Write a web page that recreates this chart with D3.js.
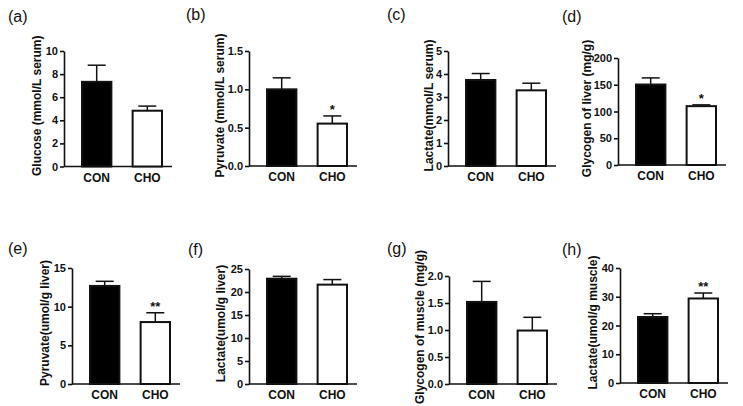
<!DOCTYPE html>
<html>
<head>
<meta charset="utf-8">
<script src="https://cdn.jsdelivr.net/npm/d3@7"></script>
<style>
  html, body { margin: 0; padding: 0; background: #fff; }
  svg { display: block; }
  text { font-family: "Liberation Sans", Arial, sans-serif; fill: #111; }
</style>
</head>
<body>
<svg id="chart" width="743" height="406"></svg>
<script>
// ---------- data ----------
const categories = ["CON", "CHO"];
const panelLetters = ["(a)", "(b)", "(c)", "(d)", "(e)", "(f)", "(g)", "(h)"];
const yTitles = [
  "Glucose (mmol/L serum)",
  "Pyruvate (mmol/L serum)",
  "Lactate(mmol/L serum)",
  "Glycogen of liver (mg/g)",
  "Pyruvate(umol/g liver)",
  "Lactate(umol/g liver)",
  "Glycogen of muscle (mg/g)",
  "Lactate(umol/g muscle)"
];
const conMeans = [7.33, 1.00, 3.74, 150.4, 12.68, 22.89, 1.52, 22.96];
const conErr   = [1.44, 0.15, 0.28, 12.4, 0.60, 0.51, 0.38, 1.14];
const choMeans = [4.83, 0.553, 3.29, 110.0, 8.01, 21.6, 0.99, 29.4];
const choErr   = [0.40, 0.10, 0.31, 2.4, 1.20, 1.10, 0.245, 1.9];
const yMax     = [10, 1.5, 5, 200, 15, 25, 2.0, 40];
const yStep    = [2, 0.5, 1, 50, 5, 5, 0.5, 10];
const yFormat  = ["d", ".1f", "d", "d", "d", "d", ".1f", "d"];
const significance = ["", "*", "", "*", "**", "", "", "**"];

// ---------- layout (positions only) ----------
const axisX   = [64, 249, 448, 618, 72, 249, 449, 620];
const axisTop = [51, 51, 51, 58, 268, 269, 276, 268];
const axisBot = [166.5, 166, 166, 165, 384, 384, 384, 383];
const titleOffset = [23, 25.5, 15, 27, 23, 24, 25, 23];
const letterPos = [[8, 22], [186, 20], [387, 20], [562, 22], [8, 254], [188, 255], [387, 254], [562, 255]];

const svg = d3.select("#chart");
svg.append("rect").attr("width", 743).attr("height", 406).attr("fill", "#fff");

for (let i = 0; i < 8; i++) {
  const x0 = axisX[i];
  const g = svg.append("g");

  const y = d3.scaleLinear().domain([0, yMax[i]]).range([axisBot[i], axisTop[i]]);
  const x = d3.scaleBand().domain(categories)
    .range([x0 + 17, x0 + 99]).paddingInner(0.38).paddingOuter(0);

  const ticks = d3.range(0, yMax[i] + yStep[i] / 2, yStep[i]);
  const yAxis = d3.axisLeft(y).tickValues(ticks).tickFormat(d3.format(yFormat[i]))
    .tickSize(4).tickSizeOuter(0).tickPadding(2);
  const ga = g.append("g").attr("transform", `translate(${x0},0)`).call(yAxis);
  ga.select(".domain").attr("stroke", "#111").attr("stroke-width", 1.6);
  ga.selectAll(".tick line").attr("stroke", "#111").attr("stroke-width", 1.6);
  ga.selectAll(".tick text").attr("font-size", 11).attr("font-weight", "bold")
    .attr("fill", "#111").style("font-family", '"Liberation Sans", Arial, sans-serif');

  // x axis line (no ticks)
  g.append("line").attr("x1", x0).attr("x2", x0 + 108)
    .attr("y1", axisBot[i]).attr("y2", axisBot[i])
    .attr("stroke", "#111").attr("stroke-width", 1.6);

  const means = [conMeans[i], choMeans[i]];
  const errs = [conErr[i], choErr[i]];
  const fills = ["#000", "#fff"];

  // error bars (upper only)
  categories.forEach((c, k) => {
    const cx = x(c) + x.bandwidth() / 2;
    g.append("line").attr("x1", cx).attr("x2", cx)
      .attr("y1", y(means[k])).attr("y2", y(means[k] + errs[k]))
      .attr("stroke", "#111").attr("stroke-width", 1.5);
    g.append("line").attr("x1", cx - 9).attr("x2", cx + 9)
      .attr("y1", y(means[k] + errs[k])).attr("y2", y(means[k] + errs[k]))
      .attr("stroke", "#111").attr("stroke-width", 1.5);
  });

  // bars
  categories.forEach((c, k) => {
    g.append("rect")
      .attr("x", x(c) + 1).attr("width", x.bandwidth() - 2)
      .attr("y", y(means[k])).attr("height", y(0) - y(means[k]))
      .attr("fill", fills[k]).attr("stroke", "#111").attr("stroke-width", 2);
  });

  // category labels
  categories.forEach(c => {
    g.append("text").attr("x", x(c) + x.bandwidth() / 2).attr("y", axisBot[i] + 15)
      .attr("text-anchor", "middle").attr("font-size", 12).attr("font-weight", "bold")
      .text(c);
  });

  // significance
  if (significance[i]) {
    const cx = x("CHO") + x.bandwidth() / 2;
    g.append("text").attr("x", cx).attr("y", y(choMeans[i] + choErr[i]) - 2)
      .attr("text-anchor", "middle").attr("font-size", 13).attr("font-weight", "bold")
      .text(significance[i]);
  }

  // y title
  const cy = (axisTop[i] + axisBot[i]) / 2 - 3;
  g.append("text")
    .attr("transform", `translate(${x0 - titleOffset[i]},${cy}) rotate(-90)`)
    .attr("text-anchor", "middle").attr("font-size", 12).attr("font-weight", "bold")
    .text(yTitles[i]);

  // panel letter
  g.append("text").attr("x", letterPos[i][0]).attr("y", letterPos[i][1])
    .attr("font-size", 16).text(panelLetters[i]);
}
</script>
</body>
</html>
